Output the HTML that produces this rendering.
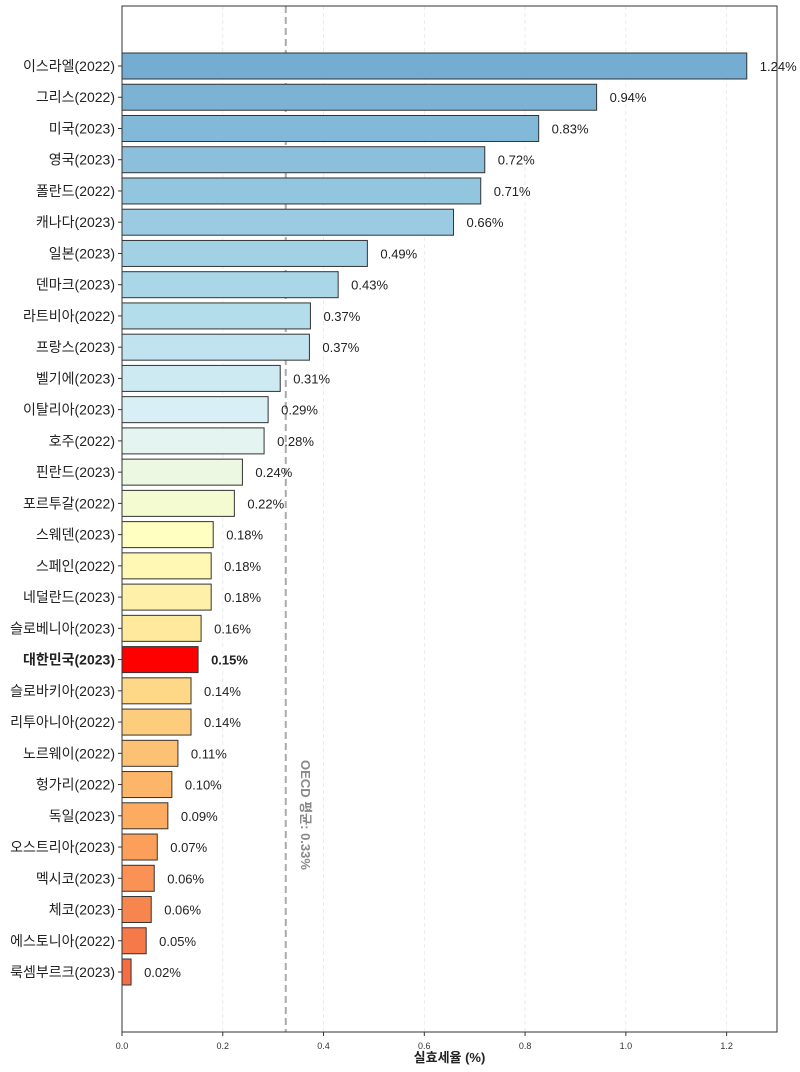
<!DOCTYPE html>
<html><head><meta charset="utf-8"><style>
html,body{margin:0;padding:0;background:#fff;}
svg{display:block;font-family:"Liberation Sans","Noto Sans CJK KR",sans-serif;}
</style></head><body>
<svg id="chart" width="800" height="1072" viewBox="0 0 800 1072" xmlns="http://www.w3.org/2000/svg"></svg>
<script>
const categories=["이스라엘(2022)","그리스(2022)","미국(2023)","영국(2023)","폴란드(2022)","캐나다(2023)","일본(2023)","덴마크(2023)","라트비아(2022)","프랑스(2023)","벨기에(2023)","이탈리아(2023)","호주(2022)","핀란드(2023)","포르투갈(2022)","스웨덴(2023)","스페인(2022)","네덜란드(2023)","슬로베니아(2023)","대한민국(2023)","슬로바키아(2023)","리투아니아(2022)","노르웨이(2022)","헝가리(2022)","독일(2023)","오스트리아(2023)","멕시코(2023)","체코(2023)","에스토니아(2022)","룩셈부르크(2023)"];
const values=[1.24,0.942,0.827,0.72,0.712,0.658,0.487,0.429,0.374,0.372,0.314,0.29,0.282,0.239,0.223,0.181,0.177,0.177,0.157,0.151,0.137,0.137,0.111,0.099,0.091,0.07,0.064,0.058,0.048,0.018];
const xTicks=[0,0.2,0.4,0.6,0.8,1.0,1.2];
const xTickLabels=["0.0","0.2","0.4","0.6","0.8","1.0","1.2"];
const oecdAvg=0.325;
const highlight="대한민국(2023)";

const svg=document.getElementById('chart');
const NS="http://www.w3.org/2000/svg";
const L=122,R=777,T=6,B=1032,XMAX=1.3;
const x=v=>L+v/XMAX*(R-L);
const y0=66,step=(972-66)/29,bh=26;
const y=i=>y0+i*step;
function mk(tag,attrs,parent){const e=document.createElementNS(NS,tag);for(const k in attrs)e.setAttribute(k,attrs[k]);(parent||svg).appendChild(e);return e;}
const stops=[[0,[116,173,209]],[0.25,[171,217,233]],[0.4,[224,243,248]],[0.52,[255,255,191]],[0.66,[254,224,144]],[0.82,[253,174,97]],[1,[244,109,67]]];
function col(t){for(let i=1;i<stops.length;i++){if(t<=stops[i][0]){const a=stops[i-1],b=stops[i];const f=(t-a[0])/(b[0]-a[0]);const c=a[1].map((v,k)=>Math.round(v+(b[1][k]-v)*f));return `rgb(${c[0]},${c[1]},${c[2]})`;}}return 'rgb(244,109,67)';}

xTicks.forEach((t,i)=>{
  const g=mk('line',{x1:x(t),x2:x(t),y1:T,y2:B,stroke:'#e6e6e6','stroke-width':0.8,'stroke-dasharray':'4,3'});
  
  
  const tk=mk('line',{x1:x(t),x2:x(t),y1:B,y2:B+4,stroke:'#333','stroke-width':1});
  
  
  const tl=mk('text',{x:x(t),y:B+17,'font-size':9,'text-anchor':'middle',fill:'#333'});
  tl.textContent=xTickLabels[i];
  
  
});
const ol=mk('line',{x1:x(oecdAvg),x2:x(oecdAvg),y1:T,y2:B,stroke:'#aaa','stroke-width':2,'stroke-dasharray':'7,4'});


const ot=mk('text',{x:0,y:0,'font-size':13,'font-weight':'bold',fill:'#888',transform:`translate(${x(oecdAvg)+15},815) rotate(90)`,'text-anchor':'middle'});
ot.textContent="OECD 평균: 0.33%";



categories.forEach((c,i)=>{
  const v=values[i],cy=y(i),hi=c===highlight;
  const r=mk('rect',{x:L,y:cy-bh/2,width:x(v)-L,height:bh,fill:hi?'#ff0000':col(i/(categories.length-1)),stroke:'#333','stroke-width':1});
  
  
  const vl=mk('text',{x:x(v)+13,y:cy+5,'font-size':13,fill:'#222','font-weight':hi?'bold':'normal'});
  vl.textContent=v.toFixed(2)+'%';
  
  
  const tk=mk('line',{x1:L-4,x2:L,y1:cy,y2:cy,stroke:'#333','stroke-width':1});
  
  
  const cl=mk('text',{x:L-7,y:cy+5,'font-size':14,'text-anchor':'end',fill:'#222','font-weight':hi?'bold':'normal'});
  cl.textContent=c;
  
  
});
const fr=mk('rect',{x:L,y:T,width:R-L,height:B-T,fill:'none',stroke:'#333','stroke-width':1});


const xt=mk('text',{x:(L+R)/2,y:1062,'font-size':13,'font-weight':'bold','text-anchor':'middle',fill:'#222'});
xt.textContent="실효세율 (%)";


</script>
</body></html>
